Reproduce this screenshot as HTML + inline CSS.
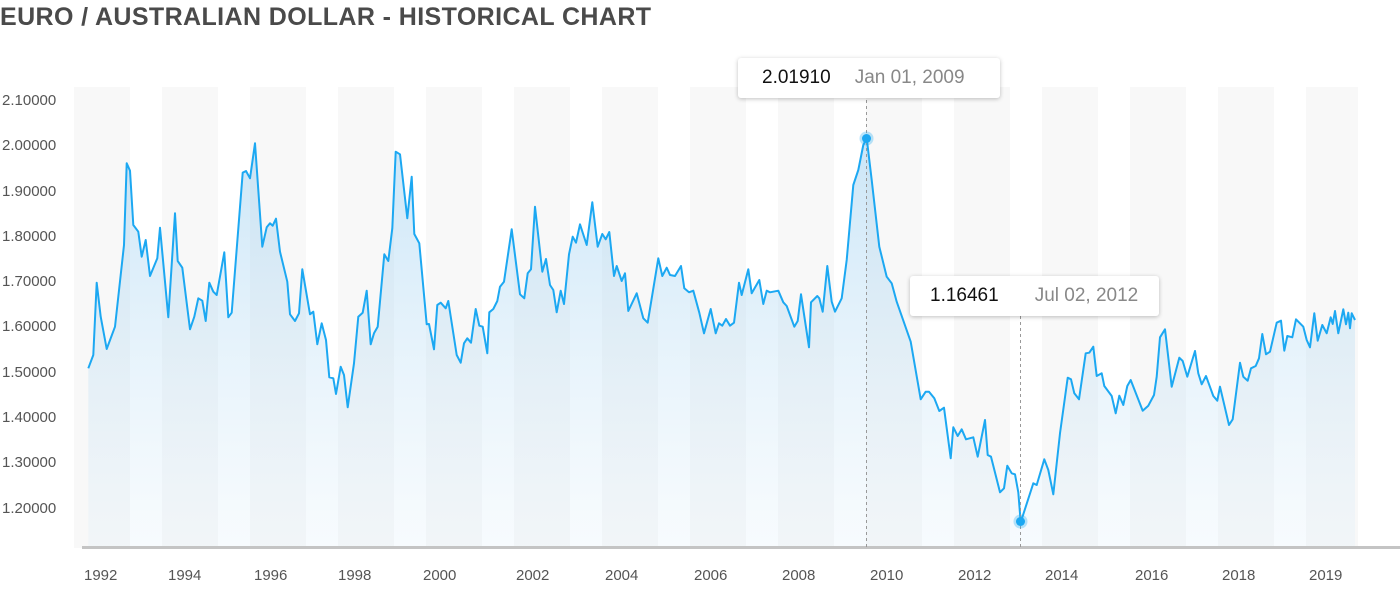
<!DOCTYPE html>
<html><head><meta charset="utf-8"><style>
body{margin:0;width:1400px;height:604px;background:#fff;overflow:hidden;font-family:"Liberation Sans",sans-serif}
svg{position:absolute;left:0;top:0}
.tt{position:absolute;background:#fff;border-radius:3px;box-shadow:0 1px 4px rgba(0,0,0,.25);height:40px;line-height:40px;font-size:19px;white-space:nowrap}
.tt b{font-weight:normal;color:#111;margin-right:24px}
.tt span{color:#888}
</style></head><body>
<div style="position:absolute;left:0;top:1px;font-size:25px;font-weight:bold;color:#4a4a4a;letter-spacing:0.4px;line-height:32px">EURO / AUSTRALIAN DOLLAR - HISTORICAL CHART</div>
<svg width="1400" height="604" viewBox="0 0 1400 604">
<defs><linearGradient id="g" x1="0" y1="0" x2="0" y2="1"><stop offset="0" stop-color="#8cc7ee" stop-opacity="0.45"/><stop offset="1" stop-color="#d7ebf8" stop-opacity="0.2"/></linearGradient></defs>
<g fill="#f8f8f8">
<rect x="74" y="87" width="56" height="461"/><rect x="162" y="87" width="56" height="461"/><rect x="250" y="87" width="56" height="461"/><rect x="338" y="87" width="56" height="461"/><rect x="426" y="87" width="56" height="461"/><rect x="514" y="87" width="56" height="461"/><rect x="602" y="87" width="56" height="461"/><rect x="690" y="87" width="56" height="461"/><rect x="778" y="87" width="56" height="461"/><rect x="866" y="87" width="56" height="461"/><rect x="954" y="87" width="56" height="461"/><rect x="1042" y="87" width="56" height="461"/><rect x="1130" y="87" width="56" height="461"/><rect x="1218" y="87" width="56" height="461"/><rect x="1306" y="87" width="52" height="461"/>
</g>
<g font-size="15" fill="#555">
<text x="2" y="105">2.10000</text><text x="2" y="150">2.00000</text><text x="2" y="196">1.90000</text><text x="2" y="241">1.80000</text><text x="2" y="286">1.70000</text><text x="2" y="331">1.60000</text><text x="2" y="377">1.50000</text><text x="2" y="422">1.40000</text><text x="2" y="467">1.30000</text><text x="2" y="513">1.20000</text>
</g>
<g font-size="15" fill="#555">
<text x="84" y="580">1992</text><text x="168" y="580">1994</text><text x="254" y="580">1996</text><text x="338" y="580">1998</text><text x="423" y="580">2000</text><text x="516" y="580">2002</text><text x="605" y="580">2004</text><text x="694" y="580">2006</text><text x="782" y="580">2008</text><text x="870" y="580">2010</text><text x="958" y="580">2012</text><text x="1045" y="580">2014</text><text x="1135" y="580">2016</text><text x="1222" y="580">2018</text><text x="1309" y="580">2019</text>
</g>
<polygon id="area" fill="url(#g)" points=""/>
<polyline id="ln" fill="none" stroke="#1ca8f2" stroke-width="2" stroke-linejoin="round" points="88.3,368.3 93.3,355 96.7,282.7 100.7,316.7 106.7,349 115,326.7 124,245 126.7,163.3 130,170.7 133.3,225 138.3,231.7 141.7,256.7 145.7,240 150,276 157.3,258.3 160,227.7 168.3,317.3 175,213.3 177.7,261 182.3,267.7 190,329.3 194.3,316.7 198.3,298.3 202.3,300.7 205.7,321 209.3,282.7 213.3,291.7 216.7,295 224.3,252.3 228.3,317.3 231.7,312.7 242.7,172.7 246,171 250,178.3 255,143.3 262.3,246.7 266.7,227.3 270,223.3 272.7,225.7 276,218.7 280,251.7 287.3,281.7 290,314.3 295,321 299,313.3 302.3,269.3 310,314.3 313.3,311.7 317.3,344.3 321.7,323.3 326,340 329.3,377.3 333.3,378.3 336,394 340.7,366.7 344,375 347.7,407.3 354,363.3 358.3,316.7 362.7,312.7 366.7,290.7 370.7,344.3 374,333.3 377.7,326.7 384.3,254.3 388.3,261 392.3,228.3 395.7,151.7 400,154.3 407.3,218.3 411.7,176.7 414.3,234 419.3,243.3 426.7,324.3 429,324 434,349.3 437.3,305 440.7,302.7 445.7,308.3 448.3,301 456.7,355 460.7,362.7 464,343.3 467.3,338.3 471,342.7 475.7,309 479.3,325.7 482.7,326.7 487.3,353.3 489.3,312.3 493.3,309 497.3,301 500,286.7 504,281.7 511.7,229.3 520,294.3 524.3,298.3 527.7,273.3 531,269.3 535,206.7 542.3,271.7 546,259 550,285 553.3,290 556.7,312.3 560.7,290.7 564,304 569,254.3 572.7,236.7 576,242.7 580,224.3 586.7,245 592.3,202.3 597.7,246.7 602.3,234 605.7,239.3 609.3,232 614,276 616.7,266 621.7,281 625,273.3 628.3,311 636.7,293.3 643.3,318.3 647.7,322.7 658.3,258.3 662.3,276 666.7,267.7 670,275 675,276 681,266 684.3,288.3 689,292.3 693.3,290.7 699.3,312.7 704,333.3 710.7,309 715.7,333.3 719,323.3 722.3,325.7 726,319 730,325.7 734,322.7 739,282.7 741.7,295 748.3,269.3 751.7,293.3 759.3,280 763.3,304 766.7,290.7 770,292.3 778.3,290.7 783.3,302.3 786.7,306 794.3,326.7 797.7,321 801,294.3 809,347.3 811,302.3 817.3,296 819.3,298.3 822.7,311.7 827.3,266 831.7,301.7 835,311.7 841.7,298.3 846.7,260 853.3,185 858.3,170 863.3,145 866.7,138.3 871.7,180 879.3,246.7 886.7,276.7 891.7,283.3 896.7,301.7 910.7,341.7 920.7,399.3 925.7,391.7 929,391.7 934.3,398.3 939.3,411 944,407.7 950.7,458.3 953.3,427.3 957.7,436 961.7,429.3 966,439.3 973.3,437.3 977.7,456.7 985,420 987.7,455 991,456.7 1000,492.3 1004,488.3 1007.3,465.7 1011.7,473.3 1015,474.3 1018.3,492.3 1020.7,522.3 1033.3,483.3 1036.7,485 1044.3,459.3 1048.3,470 1053.3,494.3 1060,433.3 1067.7,377.7 1071,379.3 1074.3,393.3 1079,399.3 1085.7,353.3 1089.3,352.7 1093.3,346.7 1096.7,376 1101.7,373.3 1104.3,386 1111.7,396 1115.7,413.3 1119.3,395.7 1123.3,405 1127.3,386 1130.7,380 1142.7,410.7 1148.3,405.7 1154,395 1156.7,376.7 1160,337.3 1165,329.3 1171.7,386.7 1179.3,357.7 1182.7,361 1187.3,376.7 1195,351 1198.3,373.3 1201.7,384.3 1206,376 1213.3,396 1217.3,400.7 1220,386.7 1229,425 1232.7,419.3 1240,362.7 1243.3,376.7 1247.7,380.7 1251,368.3 1255.7,366 1259,358.3 1262.3,334 1266,354.3 1270,351.7 1276.7,322.7 1281,320.7 1284.3,350.7 1287.3,336 1292.3,337.3 1296,319.3 1303.3,326.7 1306.7,340 1310,347.3 1314.3,313.3 1317.7,340.7 1322.3,325 1326.7,333.3 1330.7,317.3 1332.7,324 1335,311 1338.3,333.3 1343.3,309.3 1346,324.3 1348.3,312.7 1350,328.3 1351.7,313.3 1355,320"/>
<rect x="82" y="546" width="1318" height="3" fill="#c4c4c4"/>
<line x1="866.5" y1="100" x2="866.5" y2="547" stroke="#999" stroke-width="1" stroke-dasharray="3,3"/>
<line x1="1020.5" y1="316" x2="1020.5" y2="547" stroke="#999" stroke-width="1" stroke-dasharray="3,3"/>
<circle cx="866.5" cy="138.5" r="7" fill="#1ca8f2" opacity="0.3"/><circle cx="866.5" cy="138.5" r="4.5" fill="#1ca8f2"/>
<circle cx="1020.5" cy="521.5" r="7" fill="#1ca8f2" opacity="0.3"/><circle cx="1020.5" cy="521.5" r="4.5" fill="#1ca8f2"/>
</svg>
<div class="tt" style="left:738px;top:58px;width:262px"><span style="display:inline-block;width:24px"></span><b>2.01910</b><span>Jan 01, 2009</span></div>
<div class="tt" style="left:910px;top:276px;width:249px"><span style="display:inline-block;width:20px"></span><b style="margin-right:36px">1.16461</b><span>Jul 02, 2012</span></div>
<script>
var l=document.getElementById('ln').getAttribute('points');
document.getElementById('area').setAttribute('points','88.3,547 '+l+' 1355,547');
</script>
</body></html>
